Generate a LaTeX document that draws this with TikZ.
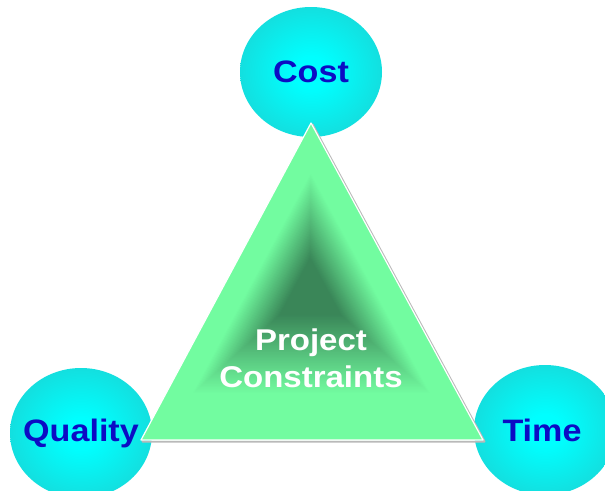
\documentclass[tikz,border=0pt]{standalone}
\usepackage{fontspec}
\setmainfont{Liberation Sans}
\usetikzlibrary{shapes.geometric,calc}
\definecolor{ballmid}{RGB}{0,255,255}
\definecolor{balledge}{RGB}{34,198,198}
\definecolor{trilight}{RGB}{114,252,160}
\definecolor{tridark}{RGB}{58,134,88}
\definecolor{lblblue}{RGB}{12,12,196}
\pgfdeclareradialshading{ballcyan}{\pgfpoint{0bp}{0bp}}{color(0bp)=(ballmid); color(6bp)=(ballmid); color(40bp)=(balledge); color(50bp)=(balledge)}
\newcommand{\widen}[1]{\scalebox{1.1}[1]{#1}}
\tikzset{
  ball/.style={ellipse, minimum width=142, minimum height=130, inner sep=0pt, shade, shading=ballcyan},
  balltext/.style={text=lblblue, font=\fontsize{31}{36}\selectfont\bfseries},
  midtext/.style={text=white, align=center, font=\fontsize{30}{37}\selectfont\bfseries},
  triedge/.style={white, line width=1.2pt, line join=round}
}

\begin{document}
\begin{tikzpicture}[x=1pt,y=-1pt]
  \useasboundingbox (0,0) rectangle (605,490);
  \node[ball] (costball) at (311,72) {};    % top ball
  \node[ball] (qualball) at (81,433) {};    % left ball
  \node[ball] (timeball) at (545,430) {};   % right ball
  \coordinate (top) at (311,123);           % corners of the triangle
  \coordinate (left) at (141,440);
  \coordinate (right) at (483,440);
  \coordinate (mid) at (310,288);           % darkest point
  \draw[gray!55, line width=2pt, line join=round] ([shift={(1.5,1.5)}]top) -- ([shift={(1.5,1.5)}]left) -- ([shift={(1.5,1.5)}]right) -- cycle;   % shadow
  \fill[trilight] (top) -- (left) -- (right) -- cycle;
  \foreach \s in {0.70,0.69,...,0.02} {
    \pgfmathsetmacro\p{min(100,100*(0.70-\s)/0.52)}
    \fill[tridark!\p!trilight] ($(mid)!\s!(top)$) -- ($(mid)!\s!(left)$) -- ($(mid)!\s!(right)$) -- cycle;
  }
  \draw[triedge] (top) -- (left) -- (right) -- cycle;
  \node[balltext] (cost) at (costball) {\widen{Cost}};
  \node[balltext] (quality) at (qualball) {\widen{Quality}};
  \node[balltext] (time) at ([xshift=-3]timeball.center) {\widen{Time}};
  \node[midtext] (constraints) at (311,358) {\widen{Project}\\\widen{Constraints}};
\end{tikzpicture}
\end{document}
